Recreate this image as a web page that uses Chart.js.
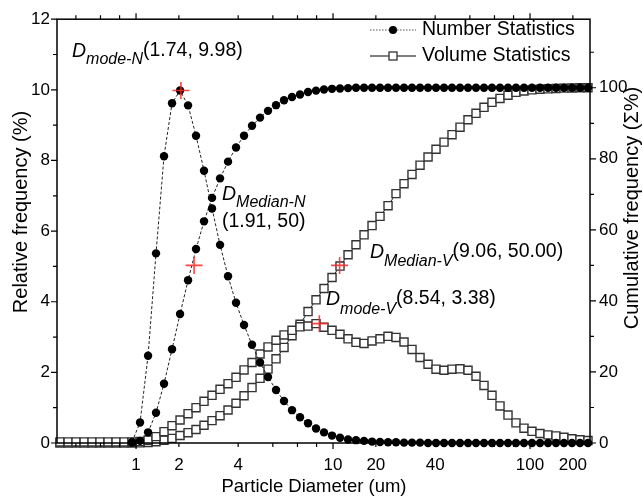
<!DOCTYPE html>
<html>
<head>
<meta charset="utf-8">
<script src="https://cdn.jsdelivr.net/npm/chart.js@4.4.0/dist/chart.umd.min.js"></script>
<style>
  html, body { margin: 0; padding: 0; background: #fff; }
</style>
</head>
<body>
<canvas id="myChart" width="643" height="501"></canvas>
<script>
// particle size bins (um)
const diameters = [
  0.411, 0.452, 0.496, 0.545, 0.598, 0.656, 0.721, 0.792, 0.869, 0.954,
  1.048, 1.151, 1.263, 1.387, 1.523, 1.673, 1.837, 2.016, 2.214, 2.431,
  2.670, 2.931, 3.218, 3.534, 3.880, 4.261, 4.677, 5.136, 5.640, 6.192,
  6.800, 7.467, 8.198, 9.000, 9.883, 10.85, 11.92, 13.08, 14.37, 15.78,
  17.32, 19.02, 20.88, 22.93, 25.17, 27.65, 30.36, 33.33, 36.60, 40.18,
  44.12, 48.44, 53.19, 58.40, 64.12, 70.41, 77.31, 84.88, 93.20, 102.3,
  112.4, 123.4, 135.5, 148.7, 163.3, 179.3, 196.9
];

// number statistics: relative frequency (%) and cumulative (%)
const numberFreq = [
  null, null, null, null, null, null, null, null, null, 0.03,
  0.58, 2.47, 5.37, 8.12, 9.62, 9.98, 9.56, 8.70, 7.71, 6.64,
  5.61, 4.72, 3.97, 3.34, 2.78, 2.28, 1.87, 1.50, 1.19, 0.93,
  0.73, 0.56, 0.41, 0.30, 0.21, 0.15, 0.10, 0.08, 0.06, 0.04,
  0.03, 0.02, 0.02, 0.01, 0.01, 0.01, 0, 0, 0, 0,
  0, 0, 0, 0, 0, 0, 0, 0, 0, 0,
  0, 0, 0, 0, 0, 0, 0
];
const numberCum = [
  null, null, null, null, null, null, null, null, null, 0.03,
  0.6, 3.0, 8.5, 16.7, 26.4, 36.3, 45.8, 54.6, 62.4, 69.0,
  74.5, 79.2, 83.2, 86.5, 89.3, 91.6, 93.5, 95.1, 96.5, 97.4,
  98.1, 98.8, 99.2, 99.5, 99.7, 99.8, 99.9, 100, 100, 100,
  100, 100, 100, 100, 100, 100, 100, 100, 100, 100,
  100, 100, 100, 100, 100, 100, 100, 100, 100, 100,
  100, 100, 100, 100, 100, 100, 100
];

// volume statistics
const volumeFreq = [
  0.03, 0.03, 0.03, 0.03, 0.03, 0.03, 0.03, 0.03, 0.03, 0.03,
  0.04, 0.08, 0.18, 0.32, 0.49, 0.65, 0.83, 1.00, 1.18, 1.35,
  1.52, 1.68, 1.86, 2.07, 2.28, 2.52, 2.72, 2.91, 3.06, 3.19,
  3.29, 3.31, 3.38, 3.28, 3.19, 3.08, 2.95, 2.85, 2.82, 2.89,
  2.95, 3.02, 2.99, 2.86, 2.65, 2.42, 2.23, 2.09, 2.06, 2.09,
  2.10, 2.06, 1.89, 1.63, 1.35, 1.05, 0.79, 0.57, 0.42, 0.33,
  0.27, 0.23, 0.20, 0.16, 0.12, 0.09, 0.07
];
const volumeCum = [
  0, 0, 0, 0, 0, 0, 0, 0, 0, 0,
  0.05, 0.15, 0.35, 0.8, 1.3, 2.1, 2.9, 3.8, 5.0, 6.3,
  7.7, 9.3, 11.2, 13.3, 15.6, 18.2, 20.8, 23.7, 26.9, 30.2,
  33.4, 37.0, 40.3, 43.5, 46.6, 49.8, 53.0, 55.8, 58.6, 61.2,
  63.8, 66.8, 70.2, 73.0, 75.6, 78.2, 80.5, 82.7, 84.7, 86.8,
  88.9, 91.0, 92.8, 94.5, 95.9, 97.0, 97.9, 98.7, 99.1, 99.4,
  99.6, 99.7, 99.8, 99.9, 99.95, 100, 100
];

// red + markers [diameter, value]
const modeN = [1.69, 9.98];
const modeV = [8.52, 3.38];
const medianN = [1.97, 50];
const medianV = [10.8, 50];

// axis ticks
const xTickValues = [0.495, 0.66, 0.825, 1, 1.65, 3.3, 4.95, 6.6, 8.25, 10, 16.5, 33, 49.5, 66, 82.5, 100, 165];
const xMajor = [1, 10, 100];
const xTickLabels = { 1: '1', 1.65: '2', 3.3: '4', 10: '10', 16.5: '20', 33: '40', 100: '100', 165: '200' };
const leftTicks = [0, 2, 4, 6, 8, 10, 12];
const rightTicks = [0, 20, 40, 60, 80, 100];

const FONT = '"Liberation Sans", Arial, sans-serif';
Chart.defaults.font.family = FONT;
Chart.defaults.color = '#000';

const pts = arr => diameters.map((d, i) => ({ x: d, y: arr[i] }));

// cadre, graduations, titres, legende et annotations
const decorations = {
  id: 'decorations',
  afterDraw(chart) {
    const ctx = chart.ctx;
    const a = chart.chartArea;
    const sx = chart.scales.x, sy = chart.scales.y, sy2 = chart.scales.y2;
    ctx.save();
    ctx.strokeStyle = '#000';
    ctx.lineWidth = 1.5;
    ctx.strokeRect(a.left, a.top, a.right - a.left, a.bottom - a.top);

    ctx.lineWidth = 1.2;
    ctx.beginPath();
    xTickValues.forEach(v => {
      const px = sx.getPixelForValue(v);
      const len = xMajor.includes(v) ? 6 : 4;
      ctx.moveTo(px, a.bottom); ctx.lineTo(px, a.bottom + len);
      ctx.moveTo(px, a.top); ctx.lineTo(px, a.top - len);
    });
    for (let v = 0; v <= 12; v++) {
      const py = sy.getPixelForValue(v);
      ctx.moveTo(a.left, py); ctx.lineTo(a.left - (v % 2 ? 4 : 6), py);
    }
    for (let v = 0; v <= 110; v += 10) {
      const py = sy2.getPixelForValue(v);
      ctx.moveTo(a.right, py); ctx.lineTo(a.right + (v % 20 ? 4 : 6), py);
    }
    ctx.stroke();

    // axis titles
    ctx.fillStyle = '#000';
    ctx.textAlign = 'center';
    ctx.textBaseline = 'alphabetic';
    ctx.font = '18.5px ' + FONT;
    ctx.fillText('Particle Diameter (um)', 314, 492);
    ctx.textBaseline = 'middle';
    ctx.font = '20px ' + FONT;
    ctx.save();
    ctx.translate(21.5, 212);
    ctx.rotate(-Math.PI / 2);
    ctx.fillText('Relative frequency (%)', 0, 0);
    ctx.restore();
    ctx.save();
    ctx.translate(632, 208);
    ctx.rotate(-Math.PI / 2);
    ctx.fillText('Cumulative frequency (\u03A3%)', 0, 0);
    ctx.restore();

    // legend
    const rows = [
      { text: 'Number Statistics', y: 30, dash: [1.5, 1.5], color: '#555', style: 'circle' },
      { text: 'Volume Statistics', y: 56, dash: [], color: '#000', style: 'rect' }
    ];
    rows.forEach(r => {
      ctx.strokeStyle = r.color;
      ctx.lineWidth = 1;
      ctx.setLineDash(r.dash);
      ctx.beginPath();
      ctx.moveTo(370, r.y); ctx.lineTo(416, r.y);
      ctx.stroke();
      ctx.setLineDash([]);
      if (r.style === 'circle') {
        ctx.fillStyle = '#000';
        ctx.beginPath(); ctx.arc(393, r.y, 4, 0, Math.PI * 2); ctx.fill();
      } else {
        ctx.fillStyle = '#fff';
        ctx.strokeStyle = '#333';
        ctx.lineWidth = 1.3;
        ctx.fillRect(389, r.y - 4, 8, 8);
        ctx.strokeRect(389, r.y - 4, 8, 8);
      }
      ctx.fillStyle = '#000';
      ctx.textAlign = 'left';
      ctx.textBaseline = 'middle';
      ctx.font = '19.5px ' + FONT;
      ctx.fillText(r.text, 422, r.y);
    });

    // D labels
    ctx.textBaseline = 'alphabetic';
    ctx.textAlign = 'left';
    function dLabel(x, y, sub, subDy, rest) {
      ctx.font = 'italic 19.5px ' + FONT;
      ctx.fillText('D', x, y);
      let cx = x + ctx.measureText('D').width;
      ctx.font = 'italic 16px ' + FONT;
      ctx.fillText(sub, cx, y + subDy);
      cx += ctx.measureText(sub).width;
      if (rest) {
        ctx.font = '19.5px ' + FONT;
        ctx.fillText(rest, cx, y - 1);
      }
    }
    dLabel(72, 57, 'mode-N', 7, '(1.74, 9.98)');
    dLabel(222, 200, 'Median-N', 7, '');
    ctx.font = '19.5px ' + FONT;
    ctx.fillText('(1.91, 50)', 222, 227);
    dLabel(370, 258, 'Median-V', 8, '(9.06, 50.00)');
    dLabel(326, 305, 'mode-V', 9, '(8.54, 3.38)');
    ctx.restore();
  }
};

const markStyle = {
  showLine: false,
  pointStyle: 'cross',
  pointRadius: 8.5,
  pointBorderColor: 'rgba(255,35,35,0.85)',
  pointBorderWidth: 1.6,
  borderColor: 'rgba(255,35,35,0.85)'
};

const ctx = document.getElementById('myChart').getContext('2d');
const myChart = new Chart(ctx, {
  type: 'line',
  data: {
    datasets: [
      Object.assign({ label: 'marks left', yAxisID: 'y',
        data: [{ x: modeN[0], y: modeN[1] }, { x: modeV[0], y: modeV[1] }] }, markStyle),
      Object.assign({ label: 'marks right', yAxisID: 'y2',
        data: [{ x: medianN[0], y: medianN[1] }, { x: medianV[0], y: medianV[1] }] }, markStyle),
      {
        label: 'Number frequency', yAxisID: 'y', data: pts(numberFreq),
        borderColor: '#222', borderWidth: 1, borderDash: [3, 2],
        pointStyle: 'circle', pointRadius: 4.2, pointBackgroundColor: '#000', pointBorderWidth: 0
      },
      {
        label: 'Number cumulative', yAxisID: 'y2', data: pts(numberCum),
        borderColor: '#222', borderWidth: 1, borderDash: [3, 2],
        pointStyle: 'circle', pointRadius: 4.2, pointBackgroundColor: '#000', pointBorderWidth: 0
      },
      {
        label: 'Volume frequency', yAxisID: 'y', data: pts(volumeFreq),
        borderColor: '#222', borderWidth: 1,
        pointStyle: 'rect', pointRadius: 5.7, pointBackgroundColor: '#fff',
        pointBorderColor: '#333', pointBorderWidth: 1.4
      },
      {
        label: 'Volume cumulative', yAxisID: 'y2', data: pts(volumeCum),
        borderColor: '#222', borderWidth: 1,
        pointStyle: 'rect', pointRadius: 5.7, pointBackgroundColor: '#fff',
        pointBorderColor: '#333', pointBorderWidth: 1.4
      }
    ]
  },
  options: {
    responsive: false,
    animation: false,
    clip: false,
    elements: { line: { tension: 0 } },
    layout: { padding: { top: 16, left: 0, right: 0, bottom: 0 } },
    plugins: { legend: { display: false }, tooltip: { enabled: false } },
    scales: {
      x: {
        type: 'logarithmic', min: 0.397, max: 201.6,
        afterBuildTicks: s => { s.ticks = xTickValues.map(v => ({ value: v })); },
        afterFit: s => { s.height = 58; },
        grid: { display: false, drawTicks: false },
        border: { display: false },
        ticks: {
          autoSkip: false, maxRotation: 0, padding: 12,
          font: { size: 17 },
          callback: v => xTickLabels[v] || ''
        }
      },
      y: {
        position: 'left', min: 0, max: 12,
        afterBuildTicks: s => { s.ticks = leftTicks.map(v => ({ value: v })); },
        afterFit: s => { s.width = 57; },
        grid: { display: false, drawTicks: false },
        border: { display: false },
        ticks: { padding: 7, font: { size: 17 } }
      },
      y2: {
        position: 'right', min: 0, max: 119.3,
        afterBuildTicks: s => { s.ticks = rightTicks.map(v => ({ value: v })); },
        afterFit: s => { s.width = 53; },
        grid: { display: false, drawTicks: false },
        border: { display: false },
        ticks: { padding: 9, font: { size: 17 } }
      }
    }
  },
  plugins: [decorations]
});
</script>
</body>
</html>
